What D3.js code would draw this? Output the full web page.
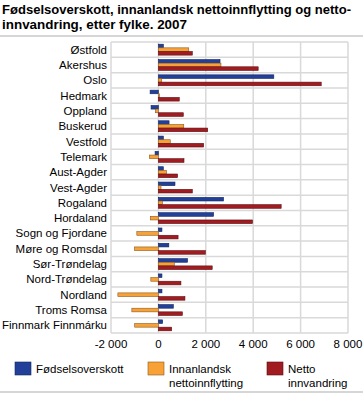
<!DOCTYPE html>
<html>
<head>
<meta charset="utf-8">
<script src="https://cdn.jsdelivr.net/npm/d3@7"></script>
<style>
  body { margin: 0; background: #fff; }
  svg { font-family: "Liberation Sans", Arial, sans-serif; }
</style>
</head>
<body>
<svg id="chart" width="363" height="394"></svg>
<script>
const fylker = ["Østfold", "Akershus", "Oslo", "Hedmark", "Oppland", "Buskerud", "Vestfold",
  "Telemark", "Aust-Agder", "Vest-Agder", "Rogaland", "Hordaland", "Sogn og Fjordane",
  "Møre og Romsdal", "Sør-Trøndelag", "Nord-Trøndelag", "Nordland", "Troms Romsa", "Finnmark Finnmárku"];
const seriesNames = ["Fødselsoverskott", "Innanlandsk nettoinnflytting", "Netto innvandring"];
const fodselsoverskott = [210, 2600, 4870, -350, -310, 450, 210, -140, 210, 700, 2750, 2330, 150, 440, 1230, 150, 150, 630, 180];
const innanlandsk = [1280, 2640, 140, 50, -130, 1070, 500, -380, 340, 110, 170, -340, -910, -1010, 670, -320, -1710, -1120, -1000];
const innvandring = [1430, 4210, 6870, 880, 1050, 2080, 1910, 1080, 810, 1430, 5180, 3970, 830, 1980, 2270, 950, 1120, 1010, 560];
const xTicks = [-2000, 0, 2000, 4000, 6000, 8000];
const colors = ["#22409a", "#f7a136", "#a01c20"];
const strokes = ["#13285e", "#8a5a20", "#5e0f12"];

const svg = d3.select("#chart");
const plotLeft = 111, plotRight = 348, plotTop = 42, plotBottom = 333;
const fs = 11.5;

// title
const title = svg.append("g").attr("font-weight", "bold").attr("font-size", 13.5).attr("fill", "#000");
title.append("text").attr("x", 2).attr("y", 14).attr("textLength", 349).attr("lengthAdjust", "spacingAndGlyphs")
  .text("Fødselsoverskott, innanlandsk nettoinnflytting og netto-");
title.append("text").attr("x", 2).attr("y", 29).attr("textLength", 185).attr("lengthAdjust", "spacingAndGlyphs")
  .text("innvandring, etter fylke. 2007");
svg.append("line").attr("x1", 0).attr("x2", 363).attr("y1", 36).attr("y2", 36)
  .attr("stroke", "#c8c8c8").attr("stroke-width", 1.5);

const x = d3.scaleLinear().domain([-2000, 8000]).range([plotLeft, plotRight]);
const y0 = d3.scaleBand().domain(fylker).range([plotTop, plotBottom]).padding(0);
const y1 = d3.scaleBand().domain([0, 1, 2]).range([0, y0.bandwidth()]).paddingOuter(0.6);

// grid
const grid = svg.append("g").attr("stroke", "#d9d9d9").attr("stroke-width", 1.5);
grid.selectAll("line.v").data(xTicks).enter().append("line")
  .attr("x1", d => x(d)).attr("x2", d => x(d)).attr("y1", plotTop).attr("y2", plotBottom);
grid.selectAll("line.h").data(fylker.concat(["__end"])).enter().append("line")
  .attr("x1", plotLeft).attr("x2", plotRight)
  .attr("y1", (d, i) => i < fylker.length ? y0(d) : plotBottom)
  .attr("y2", (d, i) => i < fylker.length ? y0(d) : plotBottom);

// bars
const allSeries = [fodselsoverskott, innanlandsk, innvandring];
allSeries.forEach(function(vals, s) {
  svg.append("g").selectAll("rect").data(vals).enter().append("rect")
    .attr("x", d => x(Math.min(0, d)))
    .attr("y", (d, i) => y0(fylker[i]) + y1(s))
    .attr("width", d => Math.abs(x(d) - x(0)))
    .attr("height", y1.bandwidth())
    .attr("fill", colors[s])
    .attr("stroke", strokes[s])
    .attr("stroke-width", 0.6);
});

// category labels
svg.append("g").selectAll("text").data(fylker).enter().append("text")
  .attr("x", 107)
  .attr("y", d => y0(d) + y0.bandwidth() / 2)
  .attr("dy", "0.35em")
  .attr("text-anchor", "end")
  .attr("font-size", fs)
  .attr("fill", "#000")
  .text(d => d)
  .each(function() {
    const w = this.getComputedTextLength();
    if (w > 105) d3.select(this).attr("textLength", 105).attr("lengthAdjust", "spacingAndGlyphs");
  });

// x axis labels
const fmt = d => d3.format(",")(d).replace(/,/g, " ").replace("−", "-");
svg.append("g").selectAll("text").data(xTicks).enter().append("text")
  .attr("x", d => x(d))
  .attr("y", 348)
  .attr("text-anchor", "middle")
  .attr("font-size", fs)
  .attr("fill", "#000")
  .text(fmt);

// legend
const legendX = [15, 148, 267];
const legendLines = [["Fødselsoverskott"], ["Innanlandsk", "nettoinnflytting"], ["Netto", "innvandring"]];
const legend = svg.append("g");
seriesNames.forEach(function(name, i) {
  legend.append("rect").attr("x", legendX[i]).attr("y", 362).attr("width", 16).attr("height", 13)
    .attr("fill", colors[i]).attr("stroke", strokes[i]).attr("stroke-width", 0.6);
  legendLines[i].forEach(function(line, j) {
    legend.append("text").attr("x", legendX[i] + 21).attr("y", 373 + j * 14)
      .attr("font-size", fs).attr("fill", "#000").text(line);
  });
});
svg.append("line").attr("x1", 0).attr("x2", 363).attr("y1", 392).attr("y2", 392)
  .attr("stroke", "#c8c8c8").attr("stroke-width", 1.5);
</script>
</body>
</html>
